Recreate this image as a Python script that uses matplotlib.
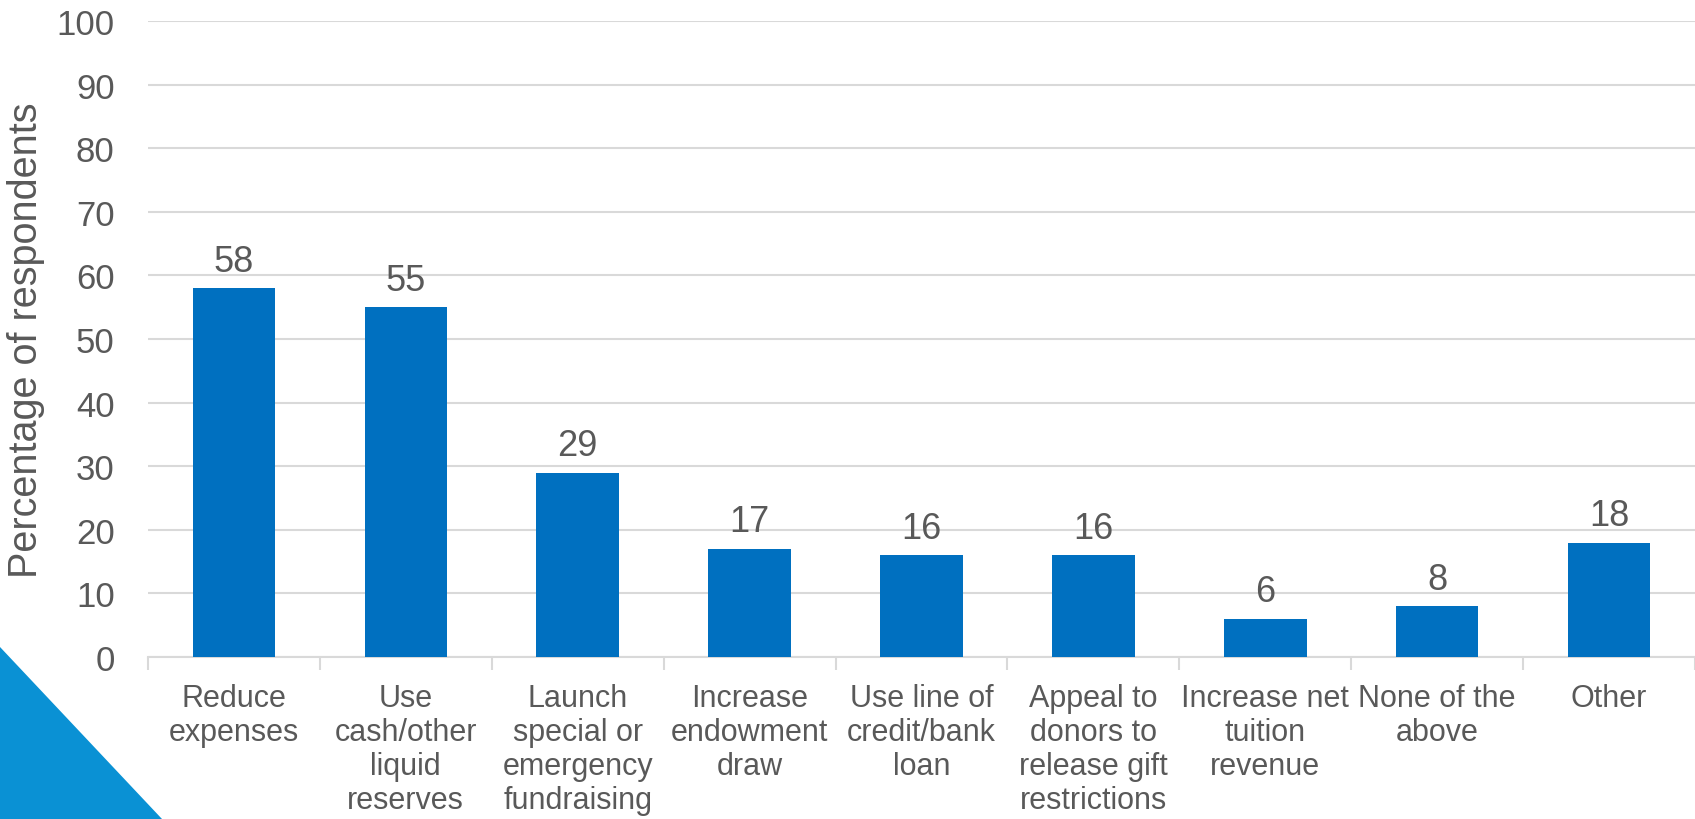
import matplotlib
matplotlib.use("Agg")
import matplotlib.pyplot as plt
from matplotlib.patches import Polygon
import numpy as np

plt.rcParams['font.family'] = ['Liberation Sans', 'DejaVu Sans']

categories = ["Reduce\nexpenses", "Use\ncash/other\nliquid\nreserves",
              "Launch\nspecial or\nemergency\nfundraising", "Increase\nendowment\ndraw",
              "Use line of\ncredit/bank\nloan", "Appeal to\ndonors to\nrelease gift\nrestrictions",
              "Increase net\ntuition\nrevenue", "None of the\nabove", "Other"]
values = [58, 55, 29, 17, 16, 16, 6, 8, 18]

text_col = "#595959"
grid_col = "#D9D9D9"
bar_col = "#0070C0"

fig = plt.figure(figsize=(16.95, 8.2), dpi=100)
ax = fig.add_axes([0.0873, 0.1976, 0.9127, 0.7754])

x = np.arange(len(values))
bars = ax.bar(x, values, width=0.48, color=bar_col, zorder=3)
for xi, v in zip(x, values):
    ax.text(xi, v + 1.5, f"{v}", ha="center", va="bottom", fontsize=26, color=text_col)

ax.set_xlim(-0.5, len(values) - 0.5)
ax.set_ylim(0, 100)
ax.set_yticks(np.arange(0, 101, 10))
ax.yaxis.grid(True, color=grid_col, linewidth=1.5, zorder=0)
ax.tick_params(axis="y", length=0, labelsize=25, labelcolor=text_col, pad=24)

# category names centred under bars, ticks at the boundaries
ax.set_xticks(x)
ax.set_xticklabels(categories, fontsize=22, color=text_col, linespacing=1.17)
ax.tick_params(axis="x", which="major", length=0, pad=19)
ax.set_xticks(np.arange(-0.5, len(values), 1), minor=True)
ax.tick_params(axis="x", which="minor", length=9, width=1.5, color=grid_col)

for s in ["top", "right", "left"]:
    ax.spines[s].set_visible(False)
ax.spines["bottom"].set_color(grid_col)
ax.spines["bottom"].set_linewidth(1.5)

ax.set_ylabel("Percentage of respondents", fontsize=28.5, color=text_col, labelpad=8)

# blue corner triangle
tri = Polygon([[0, 0], [0, 1 - 648 / 820], [162 / 1695, 0]], closed=True,
              transform=fig.transFigure, facecolor="#0A91D4", edgecolor="none", zorder=0)
fig.patches.append(tri)

fig.savefig("out.png", dpi=100)
